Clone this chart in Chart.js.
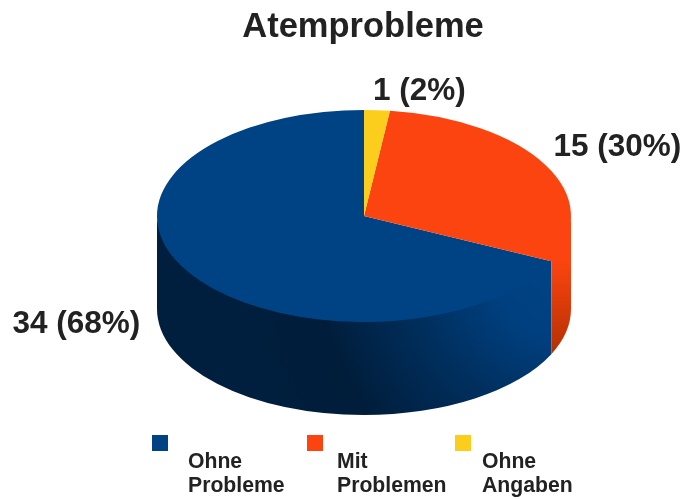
<!DOCTYPE html>
<html><head><meta charset="utf-8">
<script src="https://cdn.jsdelivr.net/npm/chart.js@4"></script>
<style>html,body{margin:0;padding:0;background:#fff}canvas{display:block}</style>
</head><body><canvas id="c" width="685" height="499"></canvas>
<script>
const titleText = "Atemprobleme";
const categories = ["Ohne Probleme", "Mit Problemen", "Ohne Angaben"];
const legendLines = [["Ohne", "Probleme"], ["Mit", "Problemen"], ["Ohne", "Angaben"]];
const values = [34, 15, 1];
const colors = ["#004384", "#FB4410", "#FBCE1E"];
const FONT = '"Liberation Sans", Arial, sans-serif';
const TEXT = "#222222";
const view = {cx: 364, cy: 216, rx: 207, ry: 106, depth: 93};
const labelPos = [{x: 12.5, y: 333}, {x: 553.5, y: 156}, {x: 373, y: 100}];
const legendPos = [{box: 152, text: 188}, {box: 307, text: 337}, {box: 455, text: 482}];

function wallFill(ctx, i) {
  if (i === 0) {
    const g = ctx.createRadialGradient(565, 262, 10, 565, 262, 330);
    g.addColorStop(0, "#004384");
    g.addColorStop(0.2, "#004080");
    g.addColorStop(0.45, "#002f5e");
    g.addColorStop(0.75, "#001d3a");
    g.addColorStop(1, "#001f3e");
    return g;
  }
  const g = ctx.createLinearGradient(0, view.cy + 46, 0, view.cy + 138);
  g.addColorStop(0, colors[i]);
  g.addColorStop(1, "#b53002");
  return g;
}

const pie3d = {
  id: "pie3d",
  beforeDatasetsDraw(chart) {
    const {ctx} = chart, {cx, cy, rx, ry, depth} = view;
    const arcs = chart.getDatasetMeta(0).data;
    ctx.save();
    arcs.forEach((arc, i) => {
      // picture is mirrored, so slices run counter-clockwise from the top
      let a = Math.PI - arc.endAngle, b = Math.PI - arc.startAngle;
      for (const k of [-2, 0, 2]) {
        const s = Math.max(a + k * Math.PI, 0), e = Math.min(b + k * Math.PI, Math.PI);
        if (e <= s) continue;
        ctx.beginPath();
        // the wall's upper edge tucks under the top face so no light seam shows
        ctx.ellipse(cx, cy - 3, rx, ry, 0, s, e);
        ctx.ellipse(cx, cy + depth, rx, ry, 0, e, s, true);
        ctx.closePath();
        ctx.fillStyle = wallFill(ctx, i);
        ctx.fill();
      }
    });
    ctx.restore();
    const m = arcs[0];
    ctx.save();
    ctx.translate(cx, cy);
    ctx.scale(-1, ry / rx);
    ctx.translate(-m.x, -m.y);
  },
  afterDatasetsDraw(chart) {
    const {ctx} = chart;
    ctx.restore();
    const total = values.reduce((s, v) => s + v, 0);
    ctx.save();
    ctx.fillStyle = TEXT;
    ctx.textBaseline = "alphabetic";
    ctx.textAlign = "left";
    ctx.font = "bold 31.5px " + FONT;
    values.forEach((v, i) => {
      ctx.fillText(v + " (" + Math.round(v / total * 100) + "%)", labelPos[i].x, labelPos[i].y);
    });
    ctx.font = "bold 21.2px " + FONT;
    categories.forEach((c, i) => {
      ctx.fillStyle = colors[i];
      ctx.fillRect(legendPos[i].box, 435, 16, 16);
      ctx.fillStyle = TEXT;
      legendLines[i].forEach((t, j) => ctx.fillText(t, legendPos[i].text, 468 + j * 24));
    });
    ctx.restore();
  }
};

new Chart(document.getElementById("c"), {
  type: "pie",
  data: {labels: categories, datasets: [{data: values, backgroundColor: colors, borderWidth: 0, radius: view.rx}]},
  options: {
    responsive: false,
    animation: false,
    layout: {padding: {left: 41}},
    plugins: {
      legend: {display: false},
      tooltip: {enabled: false},
      title: {display: true, text: titleText, color: TEXT, fullSize: false,
        font: {family: FONT, size: 34.5, weight: "bold"}, padding: {top: 7, bottom: 6}}
    }
  },
  plugins: [pie3d]
});
</script></body></html>
